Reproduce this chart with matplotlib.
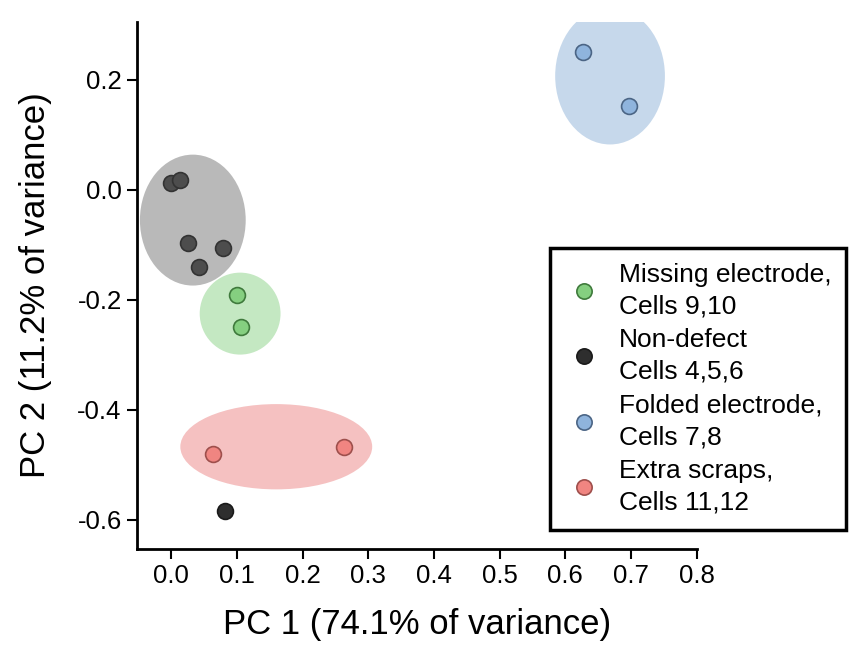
import matplotlib
matplotlib.use("Agg")
import matplotlib.pyplot as plt
from matplotlib.patches import Ellipse
from matplotlib.lines import Line2D

plt.rcParams['font.family'] = ['Liberation Sans', 'DejaVu Sans']

# PCA scores per group
green_x = [0.100, 0.106]
green_y = [-0.191, -0.249]
nondef_x = [0.000, 0.014, 0.026, 0.079, 0.043]
nondef_y = [0.013, 0.018, -0.096, -0.105, -0.140]
lone_x = [0.082]
lone_y = [-0.584]
blue_x = [0.627, 0.697]
blue_y = [0.251, 0.153]
red_x = [0.064, 0.263]
red_y = [-0.480, -0.467]

# cluster ellipses: (center x, center y, width, height)
ell_green = (0.105, -0.225, 0.123, 0.149)
ell_gray = (0.033, -0.055, 0.161, 0.238)
ell_blue = (0.668, 0.207, 0.167, 0.249)
ell_red = (0.160, -0.467, 0.292, 0.155)

labels = ["Missing electrode,\nCells 9,10", "Non-defect\nCells 4,5,6",
          "Folded electrode,\nCells 7,8", "Extra scraps,\nCells 11,12"]

fig = plt.figure(figsize=(8.56, 6.49), dpi=100)
ax = fig.add_axes([0.160, 0.154, 0.654, 0.812])

for (cx, cy, w, h), col in [(ell_gray, '#b9b9b9'), (ell_green, '#c4e8c2'),
                            (ell_blue, '#c6d8eb'), (ell_red, '#f5c1c1')]:
    ax.add_patch(Ellipse((cx, cy), w, h, facecolor=col, edgecolor='none', zorder=1))

ms = 130
ax.scatter(nondef_x, nondef_y, s=ms, c='#4d4d4d', edgecolors='#333333', linewidths=1.2, zorder=3)
ax.scatter(lone_x, lone_y, s=ms, c='#2e2e2e', edgecolors='#1a1a1a', linewidths=1.2, zorder=3)
ax.scatter(green_x, green_y, s=ms, c='#85cf80', edgecolors='#3f7a3c', linewidths=1.2, zorder=3)
ax.scatter(blue_x, blue_y, s=ms, c='#8fb4dd', edgecolors='#4b6585', linewidths=1.2, zorder=3)
ax.scatter(red_x, red_y, s=ms, c='#f08581', edgecolors='#9e4f4c', linewidths=1.2, zorder=3)

ax.set_xlim(-0.052, 0.8)
ax.set_ylim(-0.653, 0.305)
ax.set_xticks([0.0, 0.1, 0.2, 0.3, 0.4, 0.5, 0.6, 0.7, 0.8])
ax.set_yticks([-0.6, -0.4, -0.2, 0.0, 0.2])
ax.set_xticklabels(['0.0', '0.1', '0.2', '0.3', '0.4', '0.5', '0.6', '0.7', '0.8'])
ax.set_yticklabels(['-0.6', '-0.4', '-0.2', '0.0', '0.2'])
ax.spines['top'].set_visible(False)
ax.spines['right'].set_visible(False)
ax.spines['left'].set_linewidth(2)
ax.spines['bottom'].set_linewidth(2)
ax.tick_params(direction='out', length=7, width=1.5, labelsize=18.5, pad=4)
ax.set_xlabel('PC 1 (74.1% of variance)', fontsize=25, labelpad=14)
ax.set_ylabel('PC 2 (11.2% of variance)', fontsize=25, labelpad=18)

handles = [
    Line2D([], [], marker='o', ls='none', ms=11, mfc='#85cf80', mec='#3f7a3c', mew=1.2),
    Line2D([], [], marker='o', ls='none', ms=11, mfc='#2e2e2e', mec='#1a1a1a', mew=1.2),
    Line2D([], [], marker='o', ls='none', ms=11, mfc='#8fb4dd', mec='#4b6585', mew=1.2),
    Line2D([], [], marker='o', ls='none', ms=11, mfc='#f08581', mec='#9e4f4c', mew=1.2),
]
leg = fig.legend(handles, labels, loc='upper left', bbox_to_anchor=(550 / 856, 1 - 248 / 649),
                 fontsize=19, frameon=True, fancybox=False, edgecolor='black', framealpha=1,
                 handlelength=1.5, handletextpad=0.55, labelspacing=0.38, borderpad=0.55,
                 borderaxespad=0)
leg.get_frame().set_linewidth(2.5)
for t in leg.get_texts():
    t.set_linespacing(1.4)

fig.savefig('out.png', dpi=100)
